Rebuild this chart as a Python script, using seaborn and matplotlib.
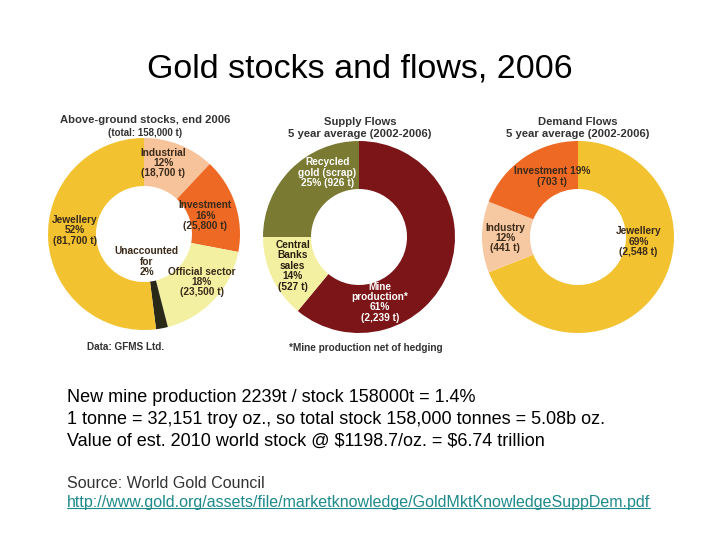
import matplotlib.pyplot as plt
from matplotlib.lines import Line2D
import seaborn as sns

# --- data ---
stock_labels = ['Industrial\n12%\n(18,700 t)', 'Investment\n16%\n(25,800 t)',
                'Official sector\n18%\n(23,500 t)', 'Unaccounted\nfor\n2%',
                'Jewellery\n52%\n(81,700 t)']
stock_share = [12, 16, 18, 2, 52]
stock_colors = ['#F7C39A', '#EE6A24', '#F4F0A2', '#2A2816', '#F2C230']

supply_labels = ['Mine\nproduction*\n61%\n(2,239 t)',
                 'Central\nBanks\nsales\n14%\n(527 t)',
                 'Recycled\ngold (scrap)\n25% (926 t)']
supply_share = [61, 14, 25]
supply_colors = ['#7B1517', '#F4F0A2', '#7A7A32']

demand_labels = ['Jewellery\n69%\n(2,548 t)', 'Industry\n12%\n(441 t)',
                 'Investment 19%\n(703 t)']
demand_share = [69, 12, 19]
demand_colors = ['#F2C230', '#F7C9A2', '#EE6A24']

notes = ['New mine production 2239t / stock 158000t = 1.4%',
         '1 tonne = 32,151 troy oz., so total stock 158,000 tonnes = 5.08b oz.',
         'Value of est. 2010 world stock @ $1198.7/oz. = $6.74 trillion']
source = 'Source: World Gold Council'
link = 'http://www.gold.org/assets/file/marketknowledge/GoldMktKnowledgeSuppDem.pdf'

sns.set_theme(style='white')
plt.rcParams['font.family'] = ['Liberation Sans', 'DejaVu Sans']
plt.rcParams['text.parse_math'] = False

W, H = 720, 540
fig = plt.figure(figsize=(7.2, 5.4), dpi=100)
fig.patch.set_facecolor('white')


def donut(cx, cy, r, shares, colors, labels, label_pos, label_colors):
    ax = fig.add_axes([(cx - r) / W, (H - cy - r) / H, 2 * r / W, 2 * r / H])
    ax.pie(shares, colors=sns.color_palette(colors), startangle=90, counterclock=False,
           radius=1, wedgeprops=dict(width=0.5, linewidth=0))
    ax.set_xlim(-1, 1)
    ax.set_ylim(-1, 1)
    ax.set_aspect('equal')
    ax.axis('off')
    for lab, (x, y), c in zip(labels, label_pos, label_colors):
        ax.text(x, y, lab, ha='center', va='center', fontsize=7.3,
                fontweight='bold', color=c, linespacing=1.05)
    return ax


# above-ground stocks
donut(144, 234, 96, stock_share, stock_colors, stock_labels,
      [(0.2, 0.74), (0.64, 0.19), (0.6, -0.5), (0.03, -0.29), (-0.72, 0.04)],
      ['#3a2a1a'] * 5)
fig.text(145 / W, 1 - 120 / H, 'Above-ground stocks, end 2006', ha='center', va='center',
         fontsize=8.1, fontweight='bold', color='#333333')
fig.text(145 / W, 1 - 133 / H, '(total: 158,000 t)', ha='center', va='center',
         fontsize=7, fontweight='bold', color='#333333')
fig.text(126 / W, 1 - 347 / H, 'Data: GFMS Ltd.', ha='center', va='center',
         fontsize=7.2, fontweight='bold', color='#333333')

# supply flows
donut(359, 237, 96, supply_share, supply_colors, supply_labels,
      [(0.22, -0.68), (-0.69, -0.3), (-0.33, 0.67)],
      ['white', '#2a2010', 'white'])
fig.text(360 / W, 1 - 122 / H, 'Supply Flows', ha='center', va='center',
         fontsize=8.1, fontweight='bold', color='#333333')
fig.text(360 / W, 1 - 134 / H, '5 year average (2002-2006)', ha='center', va='center',
         fontsize=8.1, fontweight='bold', color='#333333')
fig.text(366 / W, 1 - 348 / H, '*Mine production net of hedging', ha='center', va='center',
         fontsize=7.2, fontweight='bold', color='#333333')

# demand flows
donut(578, 237, 96, demand_share, demand_colors, demand_labels,
      [(0.63, -0.05), (-0.76, -0.01), (-0.27, 0.63)],
      ['#3a2a1a'] * 3)
fig.text(578 / W, 1 - 122 / H, 'Demand Flows', ha='center', va='center',
         fontsize=8.1, fontweight='bold', color='#333333')
fig.text(578 / W, 1 - 134 / H, '5 year average (2002-2006)', ha='center', va='center',
         fontsize=8.1, fontweight='bold', color='#333333')

# title
fig.text(360 / W, 1 - 69 / H, 'Gold stocks and flows, 2006', ha='center', va='center',
         fontsize=24.5, color='black')

# notes
for i, line in enumerate(notes):
    fig.text(67 / W, 1 - (398 + 21.5 * i) / H, line, ha='left', va='center',
             fontsize=13, color='black')
fig.text(67 / W, 1 - 484 / H, source, ha='left', va='center', fontsize=11.5, color='#333333')
link_txt = fig.text(67 / W, 1 - 502 / H, link, ha='left', va='center', fontsize=11.5,
                    color='#1E8A8A')

fig.canvas.draw()
bb = link_txt.get_window_extent().transformed(fig.transFigure.inverted())
fig.add_artist(Line2D([bb.x0, bb.x1], [bb.y0 + 0.002, bb.y0 + 0.002],
                      transform=fig.transFigure, color='#1E8A8A', linewidth=0.8))

fig.savefig('out.png', dpi=100)
